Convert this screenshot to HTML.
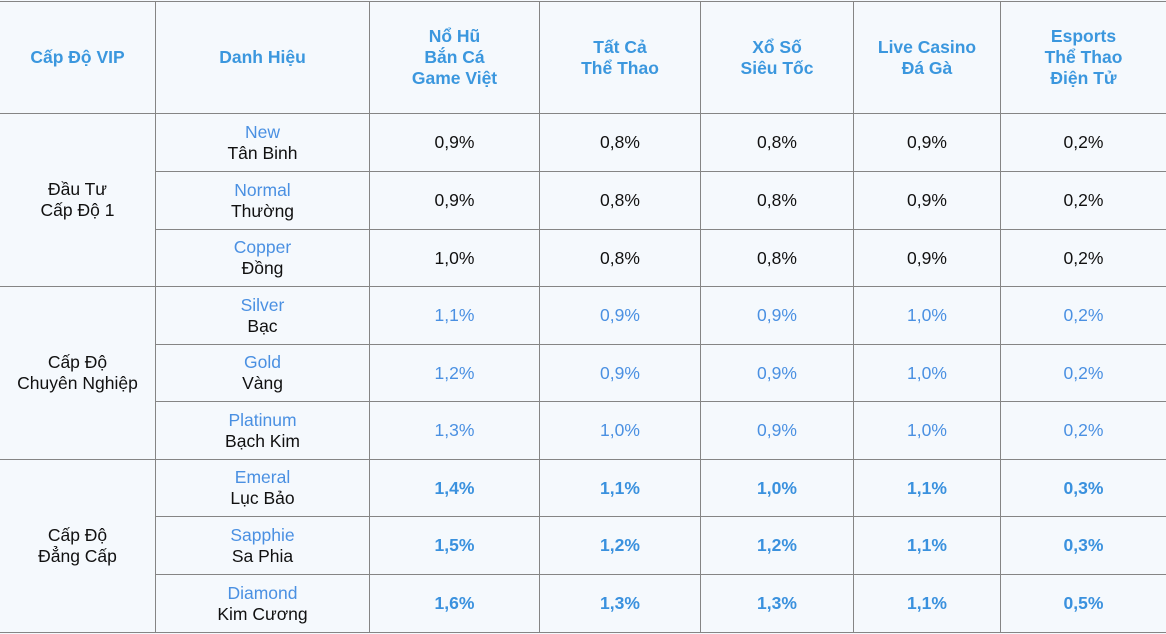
<!DOCTYPE html>
<html>
<head>
<meta charset="utf-8">
<style>
  html,body{margin:0;padding:0;}
  body{width:1166px;height:634px;overflow:hidden;background:#f5f9fd;position:relative;font-family:"Liberation Sans",Arial,sans-serif;}
  .h{position:absolute;height:1px;background:#858585;}
  .v{position:absolute;width:1px;background:#858585;top:1px;height:632px;}
  .c{position:absolute;display:flex;align-items:center;justify-content:center;text-align:center;font-size:17.5px;line-height:21px;color:#111;}
  .hd{font-weight:bold;color:#3b97de;}
  .en{color:#4a90e2;}
  .b{color:#4a90e2;}
  .bb{color:#3a91de;font-weight:bold;}
</style>
</head>
<body>
<!-- horizontal lines -->
<div class="h" style="left:0;top:1px;width:1166px;"></div>
<div class="h" style="left:0;top:113px;width:1166px;"></div>
<div class="h" style="left:155px;top:171px;width:1011px;"></div>
<div class="h" style="left:155px;top:229px;width:1011px;"></div>
<div class="h" style="left:0;top:286px;width:1166px;"></div>
<div class="h" style="left:155px;top:344px;width:1011px;"></div>
<div class="h" style="left:155px;top:401px;width:1011px;"></div>
<div class="h" style="left:0;top:459px;width:1166px;"></div>
<div class="h" style="left:155px;top:516px;width:1011px;"></div>
<div class="h" style="left:155px;top:574px;width:1011px;"></div>
<div class="h" style="left:0;top:632px;width:1166px;"></div>
<!-- vertical lines -->
<div class="v" style="left:155px;"></div>
<div class="v" style="left:369px;"></div>
<div class="v" style="left:539px;"></div>
<div class="v" style="left:700px;"></div>
<div class="v" style="left:853px;"></div>
<div class="v" style="left:1000px;"></div>

<!-- header -->
<div class="c hd" style="left:0;top:2px;width:155px;height:111px;">Cấp Độ VIP</div>
<div class="c hd" style="left:156px;top:2px;width:213px;height:111px;">Danh Hiệu</div>
<div class="c hd" style="left:370px;top:2px;width:169px;height:111px;">Nổ Hũ<br>Bắn Cá<br>Game Việt</div>
<div class="c hd" style="left:540px;top:2px;width:160px;height:111px;">Tất Cả<br>Thể Thao</div>
<div class="c hd" style="left:701px;top:2px;width:152px;height:111px;">Xổ Số<br>Siêu Tốc</div>
<div class="c hd" style="left:854px;top:2px;width:146px;height:111px;">Live Casino<br>Đá Gà</div>
<div class="c hd" style="left:1001px;top:2px;width:165px;height:111px;">Esports<br>Thể Thao<br>Điện Tử</div>

<!-- groups -->
<div class="c" style="left:0;top:114px;width:155px;height:172px;">Đầu Tư<br>Cấp Độ 1</div>
<div class="c" style="left:0;top:287px;width:155px;height:172px;">Cấp Độ<br>Chuyên Nghiệp</div>
<div class="c" style="left:0;top:460px;width:155px;height:172px;">Cấp Độ<br>Đẳng Cấp</div>

<!-- row 1 -->
<div class="c" style="left:156px;top:114px;width:213px;height:57px;"><div><span class="en">New</span><br>Tân Binh</div></div>
<div class="c" style="left:370px;top:114px;width:169px;height:57px;">0,9%</div>
<div class="c" style="left:540px;top:114px;width:160px;height:57px;">0,8%</div>
<div class="c" style="left:701px;top:114px;width:152px;height:57px;">0,8%</div>
<div class="c" style="left:854px;top:114px;width:146px;height:57px;">0,9%</div>
<div class="c" style="left:1001px;top:114px;width:165px;height:57px;">0,2%</div>
<!-- row 2 -->
<div class="c" style="left:156px;top:172px;width:213px;height:57px;"><div><span class="en">Normal</span><br>Thường</div></div>
<div class="c" style="left:370px;top:172px;width:169px;height:57px;">0,9%</div>
<div class="c" style="left:540px;top:172px;width:160px;height:57px;">0,8%</div>
<div class="c" style="left:701px;top:172px;width:152px;height:57px;">0,8%</div>
<div class="c" style="left:854px;top:172px;width:146px;height:57px;">0,9%</div>
<div class="c" style="left:1001px;top:172px;width:165px;height:57px;">0,2%</div>
<!-- row 3 -->
<div class="c" style="left:156px;top:230px;width:213px;height:56px;"><div><span class="en">Copper</span><br>Đồng</div></div>
<div class="c" style="left:370px;top:230px;width:169px;height:56px;">1,0%</div>
<div class="c" style="left:540px;top:230px;width:160px;height:56px;">0,8%</div>
<div class="c" style="left:701px;top:230px;width:152px;height:56px;">0,8%</div>
<div class="c" style="left:854px;top:230px;width:146px;height:56px;">0,9%</div>
<div class="c" style="left:1001px;top:230px;width:165px;height:56px;">0,2%</div>
<!-- row 4 -->
<div class="c" style="left:156px;top:287px;width:213px;height:57px;"><div><span class="en">Silver</span><br>Bạc</div></div>
<div class="c b" style="left:370px;top:287px;width:169px;height:57px;">1,1%</div>
<div class="c b" style="left:540px;top:287px;width:160px;height:57px;">0,9%</div>
<div class="c b" style="left:701px;top:287px;width:152px;height:57px;">0,9%</div>
<div class="c b" style="left:854px;top:287px;width:146px;height:57px;">1,0%</div>
<div class="c b" style="left:1001px;top:287px;width:165px;height:57px;">0,2%</div>
<!-- row 5 -->
<div class="c" style="left:156px;top:345px;width:213px;height:56px;"><div><span class="en">Gold</span><br>Vàng</div></div>
<div class="c b" style="left:370px;top:345px;width:169px;height:56px;">1,2%</div>
<div class="c b" style="left:540px;top:345px;width:160px;height:56px;">0,9%</div>
<div class="c b" style="left:701px;top:345px;width:152px;height:56px;">0,9%</div>
<div class="c b" style="left:854px;top:345px;width:146px;height:56px;">1,0%</div>
<div class="c b" style="left:1001px;top:345px;width:165px;height:56px;">0,2%</div>
<!-- row 6 -->
<div class="c" style="left:156px;top:402px;width:213px;height:57px;"><div><span class="en">Platinum</span><br>Bạch Kim</div></div>
<div class="c b" style="left:370px;top:402px;width:169px;height:57px;">1,3%</div>
<div class="c b" style="left:540px;top:402px;width:160px;height:57px;">1,0%</div>
<div class="c b" style="left:701px;top:402px;width:152px;height:57px;">0,9%</div>
<div class="c b" style="left:854px;top:402px;width:146px;height:57px;">1,0%</div>
<div class="c b" style="left:1001px;top:402px;width:165px;height:57px;">0,2%</div>
<!-- row 7 -->
<div class="c" style="left:156px;top:460px;width:213px;height:56px;"><div><span class="en">Emeral</span><br>Lục Bảo</div></div>
<div class="c bb" style="left:370px;top:460px;width:169px;height:56px;">1,4%</div>
<div class="c bb" style="left:540px;top:460px;width:160px;height:56px;">1,1%</div>
<div class="c bb" style="left:701px;top:460px;width:152px;height:56px;">1,0%</div>
<div class="c bb" style="left:854px;top:460px;width:146px;height:56px;">1,1%</div>
<div class="c bb" style="left:1001px;top:460px;width:165px;height:56px;">0,3%</div>
<!-- row 8 -->
<div class="c" style="left:156px;top:517px;width:213px;height:57px;"><div><span class="en">Sapphie</span><br>Sa Phia</div></div>
<div class="c bb" style="left:370px;top:517px;width:169px;height:57px;">1,5%</div>
<div class="c bb" style="left:540px;top:517px;width:160px;height:57px;">1,2%</div>
<div class="c bb" style="left:701px;top:517px;width:152px;height:57px;">1,2%</div>
<div class="c bb" style="left:854px;top:517px;width:146px;height:57px;">1,1%</div>
<div class="c bb" style="left:1001px;top:517px;width:165px;height:57px;">0,3%</div>
<!-- row 9 -->
<div class="c" style="left:156px;top:575px;width:213px;height:57px;"><div><span class="en">Diamond</span><br>Kim Cương</div></div>
<div class="c bb" style="left:370px;top:575px;width:169px;height:57px;">1,6%</div>
<div class="c bb" style="left:540px;top:575px;width:160px;height:57px;">1,3%</div>
<div class="c bb" style="left:701px;top:575px;width:152px;height:57px;">1,3%</div>
<div class="c bb" style="left:854px;top:575px;width:146px;height:57px;">1,1%</div>
<div class="c bb" style="left:1001px;top:575px;width:165px;height:57px;">0,5%</div>
</body>
</html>
